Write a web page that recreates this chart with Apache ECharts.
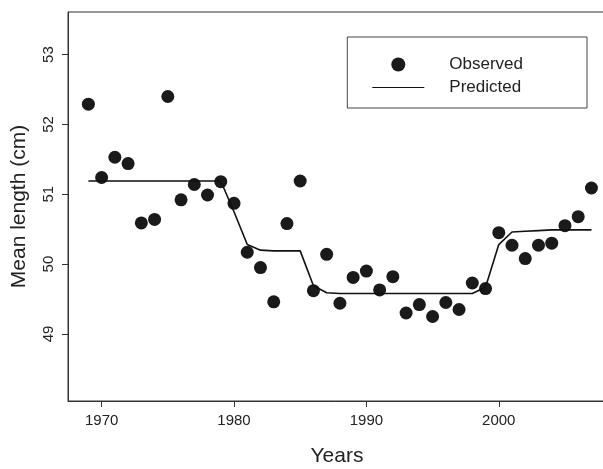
<!DOCTYPE html>
<html><head><meta charset="utf-8">
<script src="https://cdn.jsdelivr.net/npm/echarts@6/dist/echarts.min.js"></script>
<style>html,body{margin:0;padding:0;background:#fff}#c{width:603px;height:469px}</style>
</head><body><div id="c"></div>
<script>
var years = [1969,1970,1971,1972,1973,1974,1975,1976,1977,1978,1979,1980,1981,1982,1983,1984,1985,1986,1987,1988,
  1989,1990,1991,1992,1993,1994,1995,1996,1997,1998,1999,2000,2001,2002,2003,2004,2005,2006,2007];
var observed = [52.29,51.24,51.53,51.44,50.59,50.64,52.40,50.92,51.14,50.99,51.18,50.87,50.17,49.95,49.46,50.58,51.19,49.62,50.14,49.44,
  49.81,49.90,49.63,49.82,49.30,49.42,49.25,49.45,49.35,49.73,49.65,50.45,50.27,50.08,50.27,50.30,50.55,50.68,51.09];
var predicted = [51.19,51.19,51.19,51.19,51.19,51.19,51.19,51.19,51.19,51.19,51.19,50.75,50.28,50.20,50.19,50.19,50.19,49.69,49.59,49.58,
  49.58,49.58,49.58,49.58,49.58,49.58,49.58,49.58,49.58,49.58,49.67,50.28,50.46,50.47,50.48,50.49,50.49,50.49,50.49];
var xTicks = [1970,1980,1990,2000];
var yTicks = [49,50,51,52,53];

var obsData = [], predData = [];
for (var i = 0; i < years.length; i++) {
  obsData.push([years[i], observed[i]]);
  predData.push([years[i], predicted[i]]);
}
var txt = '#222', font = 'Liberation Sans';
var chart = echarts.init(document.getElementById('c'));
chart.setOption({
  animation: false,
  textStyle: { fontFamily: font },
  grid: { left: 68, top: 12, right: -3, bottom: 68, show: true, borderColor: '#333', borderWidth: 1,
    outerBoundsMode: 'none', containLabel: false },
  legend: {
    orient: 'vertical', right: 16, top: 37, width: 200,
    padding: [19, 64, 12, 25], itemGap: 6, itemWidth: 52, itemHeight: 14,
    borderColor: '#444', borderWidth: 1,
    textStyle: { fontSize: 17, color: txt, fontFamily: font, padding: [0, 0, 0, 20] },
    data: [
      { name: 'Observed', icon: 'path://M19,0 A7,7 0 1 1 19,14 A7,7 0 1 1 19,0 Z' },
      { name: 'Predicted', icon: 'path://M0,6.5 L52,6.5 L52,7.5 L0,7.5 Z' }
    ]
  },
  xAxis: {
    type: 'value', min: 1967.46, max: 2008.1,
    name: 'Years', nameLocation: 'middle', nameGap: 45,
    nameTextStyle: { fontSize: 21, color: txt, fontFamily: font },
    splitLine: { show: false },
    axisLine: { lineStyle: { color: '#333' } },
    axisTick: { customValues: xTicks, length: 6, lineStyle: { color: '#333' } },
    axisLabel: { customValues: xTicks, fontSize: 15, color: txt, margin: 12, formatter: function (v) { return String(v); } }
  },
  yAxis: {
    type: 'value', min: 48.04, max: 53.61,
    name: 'Mean length (cm)', nameLocation: 'middle', nameGap: 38,
    nameTextStyle: { fontSize: 21, color: txt, fontFamily: font },
    splitLine: { show: false },
    axisLine: { lineStyle: { color: '#333' } },
    axisTick: { customValues: yTicks, length: 6, lineStyle: { color: '#333' } },
    axisLabel: { customValues: yTicks, fontSize: 15, color: txt, rotate: 90, margin: 12 }
  },
  series: [
    { name: 'Observed', type: 'scatter', data: obsData, symbolSize: 13,
      itemStyle: { color: '#1a1a1a', opacity: 1 } },
    { name: 'Predicted', type: 'line', data: predData, symbol: 'none',
      lineStyle: { color: '#111', width: 1.6 }, itemStyle: { color: '#111' } }
  ]
});
</script></body></html>
